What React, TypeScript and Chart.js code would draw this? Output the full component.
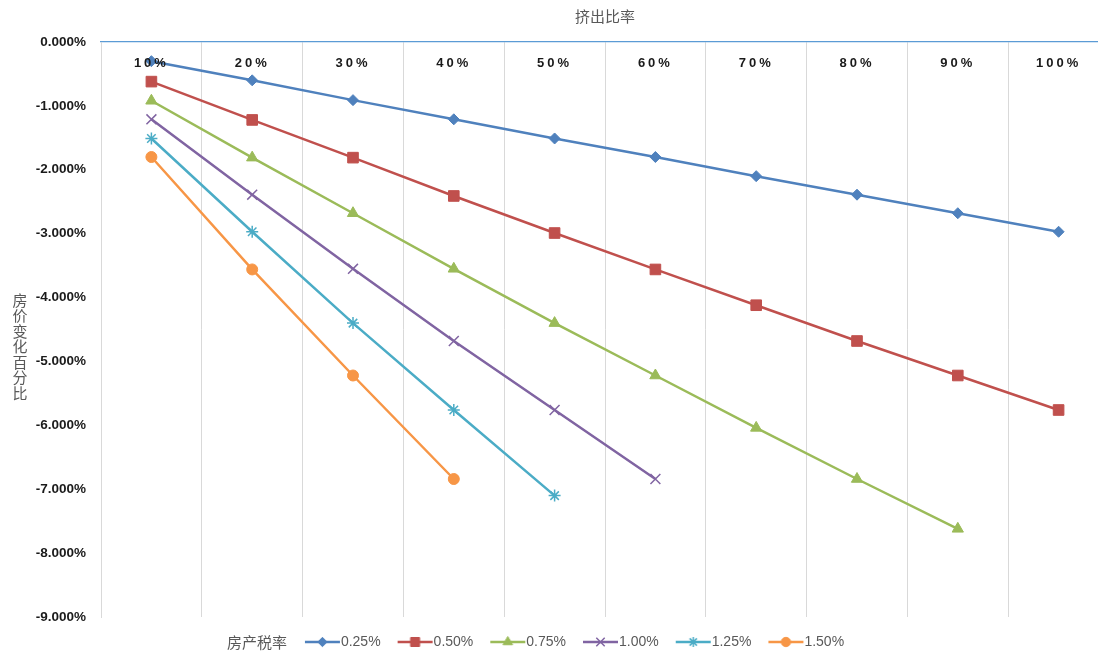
import React, { useEffect, useRef } from 'react';
import { Chart, registerables, PointElement } from 'chart.js';

Chart.register(...registerables);

const categories = ['10%', '20%', '30%', '40%', '50%', '60%', '70%', '80%', '90%', '100%'];
const seriesNames = ['0.25%', '0.50%', '0.75%', '1.00%', '1.25%', '1.50%'];
const s025 = [-0.3, -0.6, -0.91, -1.21, -1.51, -1.8, -2.1, -2.39, -2.68, -2.97];
const s050 = [-0.62, -1.22, -1.81, -2.41, -2.99, -3.56, -4.12, -4.68, -5.22, -5.76];
const s075 = [-0.92, -1.81, -2.68, -3.55, -4.4, -5.22, -6.04, -6.84, -7.62];
const s100 = [-1.21, -2.39, -3.55, -4.68, -5.76, -6.84];
const s125 = [-1.51, -2.97, -4.4, -5.76, -7.1];
const s150 = [-1.8, -3.56, -5.22, -6.84];
const seriesValues = [s025, s050, s075, s100, s125, s150];
const colors = ['#4F81BD', '#C0504D', '#9BBB59', '#8064A2', '#4BACC6', '#F79646'];
const pointStyles = ['rectRot', 'rect', 'triangle', 'crossRot', 'star', 'circle'];
const pointRadii = [5.5, 7.5, 6.5, 7, 6, 5.5];
const pointBorderWidths = [1, 1, 1, 1.5, 1.5, 1];
const xTitle = '挤出比率';
const yTitle = '房价变化百分比';
const legendTitle = '房产税率';
const yMin = -9;
const yMax = 0;

const CANVAS_W = 1109;
const CANVAS_H = 659;
const FONT = "'Liberation Sans', 'Noto Sans CJK SC', sans-serif";
const CJK = "'Noto Sans CJK SC', sans-serif";

// legend glyph: line with marker (drawn slightly off-centre so the text sits right after the line)
function makeLegendImage(i: number): HTMLCanvasElement {
  const c = document.createElement('canvas');
  c.width = 44;
  c.height = 16;
  const ctx = c.getContext('2d')!;
  ctx.strokeStyle = colors[i];
  ctx.lineWidth = 2.5;
  ctx.beginPath();
  ctx.moveTo(7, 8);
  ctx.lineTo(42, 8);
  ctx.stroke();
  const pt: any = new (PointElement as any)({
    x: 24.5,
    y: 8,
    options: {
      pointStyle: pointStyles[i],
      radius: pointRadii[i] * 0.85,
      rotation: 0,
      borderWidth: pointBorderWidths[i],
      borderColor: colors[i],
      backgroundColor: colors[i],
    },
  });
  pt.draw(ctx);
  return c;
}

export default function App() {
  const ref = useRef<HTMLCanvasElement | null>(null);

  useEffect(() => {
    if (!ref.current) return;
    const images = seriesNames.map((_, i) => makeLegendImage(i));

    const extraText = {
      id: 'extraText',
      afterLayout(chart: any) {
        if (chart.legend) chart.legend.left = 41;
      },
      afterDatasetsDraw(chart: any) {
        chart.ctx.letterSpacing = '3px';
      },
      afterDraw(chart: any) {
        const ctx = chart.ctx;
        ctx.letterSpacing = '0px';
        ctx.save();
        ctx.font = `15px ${CJK}`;
        ctx.fillStyle = '#595959';
        ctx.textAlign = 'center';
        ctx.textBaseline = 'middle';
        const chars = Array.from(yTitle);
        const top = chart.chartArea.top + 258;
        chars.forEach((ch, i) => ctx.fillText(ch, 20, top + i * 15.5));
        const hb = chart.legend && chart.legend.legendHitBoxes && chart.legend.legendHitBoxes[0];
        if (hb) {
          ctx.textAlign = 'right';
          ctx.fillText(legendTitle, hb.left - 19, hb.top + hb.height / 2);
        }
        ctx.restore();
      },
    };

    const chart = new Chart(ref.current, {
      type: 'line',
      data: {
        labels: categories,
        datasets: seriesNames.map((name, i) => ({
          label: name,
          data: seriesValues[i],
          borderColor: colors[i],
          backgroundColor: colors[i],
          borderWidth: 2.5,
          pointStyle: pointStyles[i] as any,
          pointRadius: pointRadii[i],
          pointHoverRadius: pointRadii[i],
          pointBorderWidth: pointBorderWidths[i],
          pointBackgroundColor: colors[i],
          pointBorderColor: colors[i],
          tension: 0,
          fill: false,
          clip: false,
        })),
      },
      options: {
        animation: false,
        responsive: false,
        maintainAspectRatio: false,
        devicePixelRatio: 1,
        layout: { padding: 0, autoPadding: false },
        plugins: {
          tooltip: { enabled: false },
          legend: {
            position: 'bottom',
            labels: {
              usePointStyle: true,
              pointStyleWidth: 28,
              padding: 18,
              color: '#595959',
              font: { family: FONT, size: 14 },
              generateLabels: (ch: any) =>
                ch.data.datasets.map((ds: any, i: number) => ({
                  text: ds.label,
                  pointStyle: images[i],
                  fillStyle: colors[i],
                  strokeStyle: colors[i],
                  lineWidth: 0,
                  hidden: false,
                  datasetIndex: i,
                  fontColor: '#595959',
                })),
            },
          },
        },
        scales: {
          x: {
            type: 'category',
            position: 'top',
            offset: true,
            grid: { display: true, offset: true, color: '#D9D9D9', lineWidth: 1, drawTicks: false },
            border: { display: true, color: '#5B9BD5', width: 1.3 },
            title: {
              display: true,
              text: xTitle,
              color: '#595959',
              font: { family: CJK, size: 15 },
              padding: { top: 7, bottom: 0 },
            },
            ticks: {
              z: 1,
              mirror: true,
              padding: 14,
              color: '#1a1a1a',
              font: { family: FONT, size: 13, weight: 'bold' },
              maxRotation: 0,
              autoSkip: false,
            },
            afterFit: (scale: any) => {
              scale.height = 42;
            },
          },
          y: {
            type: 'linear',
            min: yMin,
            max: yMax,
            grid: { display: false, drawTicks: false },
            border: { display: true, color: '#D9D9D9', width: 1 },
            ticks: {
              stepSize: 1,
              padding: 15,
              color: '#1a1a1a',
              font: { family: FONT, size: 13.5, weight: 'bold' },
              callback: (v: any) => (Number(v) === 0 ? 0 : Number(v)).toFixed(3) + '%',
            },
            afterFit: (scale: any) => {
              scale.width = 101;
            },
          },
        },
      },
      plugins: [extraText],
    });
    return () => chart.destroy();
  }, []);

  return (
    <div style={{ position: 'absolute', left: 0, top: 0, width: 1098, height: 652, overflow: 'hidden', background: '#fff' }}>
      <canvas
        ref={ref}
        width={CANVAS_W}
        height={CANVAS_H}
        style={{ position: 'absolute', left: 0, top: 0, width: CANVAS_W, height: CANVAS_H }}
      />
    </div>
  );
}
